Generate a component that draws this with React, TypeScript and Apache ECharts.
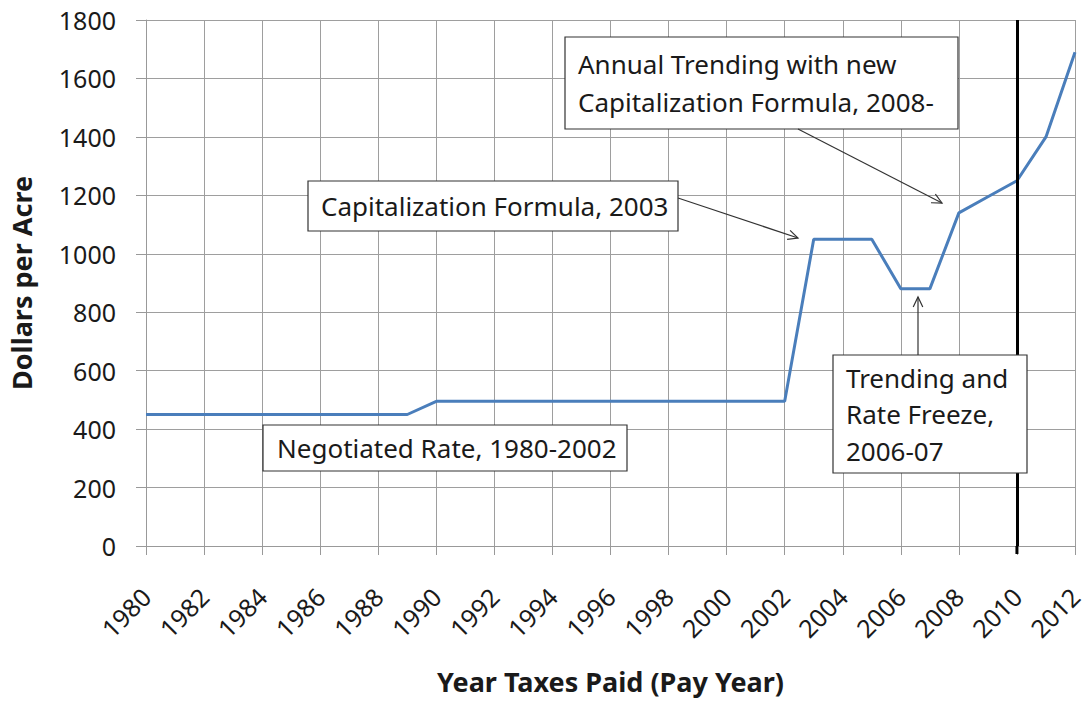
import React, { useEffect, useRef } from "react";
import * as echarts from "echarts";

const years = [
  1980, 1981, 1982, 1983, 1984, 1985, 1986, 1987, 1988, 1989, 1990, 1991, 1992,
  1993, 1994, 1995, 1996, 1997, 1998, 1999, 2000, 2001, 2002, 2003, 2004, 2005,
  2006, 2007, 2008, 2009, 2010, 2011, 2012,
];
const dollarsPerAcre = [
  450, 450, 450, 450, 450, 450, 450, 450, 450, 450, 495, 495, 495, 495, 495, 495,
  495, 495, 495, 495, 495, 495, 495, 1050, 1050, 1050, 880, 880, 1140, 1195, 1250,
  1400, 1690,
];
const markerYear = 2010;

const FONT = "'Noto Sans', 'Open Sans', sans-serif";
const TEXT_COLOR = "#1a1a1a";
const ANN_SIZE = 26;

function arrow(x1: number, y1: number, x2: number, y2: number) {
  const ang = Math.atan2(y2 - y1, x2 - x1);
  const len = 11;
  const spread = 0.45;
  const p1 = [x2 - len * Math.cos(ang - spread), y2 - len * Math.sin(ang - spread)];
  const p2 = [x2 - len * Math.cos(ang + spread), y2 - len * Math.sin(ang + spread)];
  return [
    {
      type: "line",
      shape: { x1, y1, x2, y2 },
      style: { stroke: "#333", lineWidth: 1.2 },
      z: 20,
    },
    {
      type: "polyline",
      shape: { points: [p1, [x2, y2], p2] },
      style: { stroke: "#333", lineWidth: 1.2, fill: null },
      z: 20,
    },
  ];
}

function box(x: number, y: number, w: number, h: number, text: string, tx: number, lh: number) {
  return [
    {
      type: "rect",
      shape: { x, y, width: w, height: h },
      style: { fill: "#fff", stroke: "#333", lineWidth: 1.2 },
      z: 20,
    },
    {
      type: "text",
      x: tx,
      y: y + h / 2,
      style: {
        text,
        fontFamily: FONT,
        fontSize: ANN_SIZE,
        fill: TEXT_COLOR,
        lineHeight: lh,
        verticalAlign: "middle",
        align: "left",
      },
      z: 21,
    },
  ];
}

export default function App() {
  const ref = useRef<HTMLDivElement>(null);
  useEffect(() => {
    if (!ref.current) return;
    const chart = echarts.init(ref.current, null, { renderer: "svg" });
    const data = years.map((y, i) => [y, dollarsPerAcre[i]]);
    chart.setOption({
      animation: false,
      backgroundColor: "#fff",
      grid: { left: 144, right: 11, top: 20, bottom: 159, containLabel: false },
      xAxis: {
        type: "value",
        min: 1980,
        max: 2012,
        interval: 2,
        name: "Year Taxes Paid (Pay Year)",
        nameLocation: "middle",
        nameGap: 122,
        nameTextStyle: { fontFamily: FONT, fontSize: 27, fontWeight: "bold", color: TEXT_COLOR },
        axisLine: { show: true, lineStyle: { color: "#999", width: 1 } },
        axisTick: { show: true, length: 9, lineStyle: { color: "#999" } },
        axisLabel: {
          rotate: 45,
          margin: 46,
          fontFamily: FONT,
          fontSize: 25,
          color: TEXT_COLOR,
          formatter: (v: number) => String(v),
        },
        splitLine: { show: true, lineStyle: { color: "#9e9e9e", width: 1 } },
      },
      yAxis: {
        type: "value",
        min: 0,
        max: 1800,
        interval: 200,
        name: "Dollars per Acre",
        nameLocation: "middle",
        nameGap: 111,
        nameTextStyle: { fontFamily: FONT, fontSize: 27, fontWeight: "bold", color: TEXT_COLOR },
        axisLine: { show: true, lineStyle: { color: "#999", width: 1 } },
        axisTick: { show: true, length: 10, lineStyle: { color: "#999" } },
        axisLabel: {
          margin: 30,
          fontFamily: FONT,
          fontSize: 25,
          color: TEXT_COLOR,
          formatter: (v: number) => String(v),
        },
        splitLine: { show: true, lineStyle: { color: "#9e9e9e", width: 1 } },
      },
      series: [
        {
          type: "line",
          data,
          showSymbol: false,
          symbol: "none",
          lineStyle: { color: "#4A7EBB", width: 3 },
          z: 5,
          markLine: {
            silent: true,
            symbol: "none",
            label: { show: false },
            lineStyle: { color: "#000", width: 3, type: "solid" },
            data: [{ xAxis: markerYear }],
            z: 6,
          },
        },
      ],
    });
    const mx = chart.convertToPixel({ xAxisIndex: 0 }, markerYear) as number;
    const y0 = chart.convertToPixel({ yAxisIndex: 0 }, 0) as number;
    chart.setOption({
      graphic: [
        {
          type: "line",
          shape: { x1: mx, y1: y0, x2: mx, y2: y0 + 8 },
          style: { stroke: "#000", lineWidth: 3 },
          z: 10,
        },
        ...box(308, 181, 370, 50, "Capitalization Formula, 2003", 321, 30),
        ...arrow(678, 198, 798, 238),
        ...box(565, 37, 393, 92, "Annual Trending with new\nCapitalization Formula, 2008-", 578, 38),
        ...arrow(798, 129, 942, 203),
        ...box(263, 425, 364, 46, "Negotiated Rate, 1980-2002", 277, 30),
        ...box(833, 355, 194, 118, "Trending and\nRate Freeze,\n2006-07", 846, 36.5),
        ...arrow(918, 355, 918, 297),
      ],
    });
    return () => chart.dispose();
  }, []);
  return (
    <div
      ref={ref}
      style={{ position: "fixed", left: 0, top: 0, width: 1086, height: 705, background: "#fff" }}
    />
  );
}
